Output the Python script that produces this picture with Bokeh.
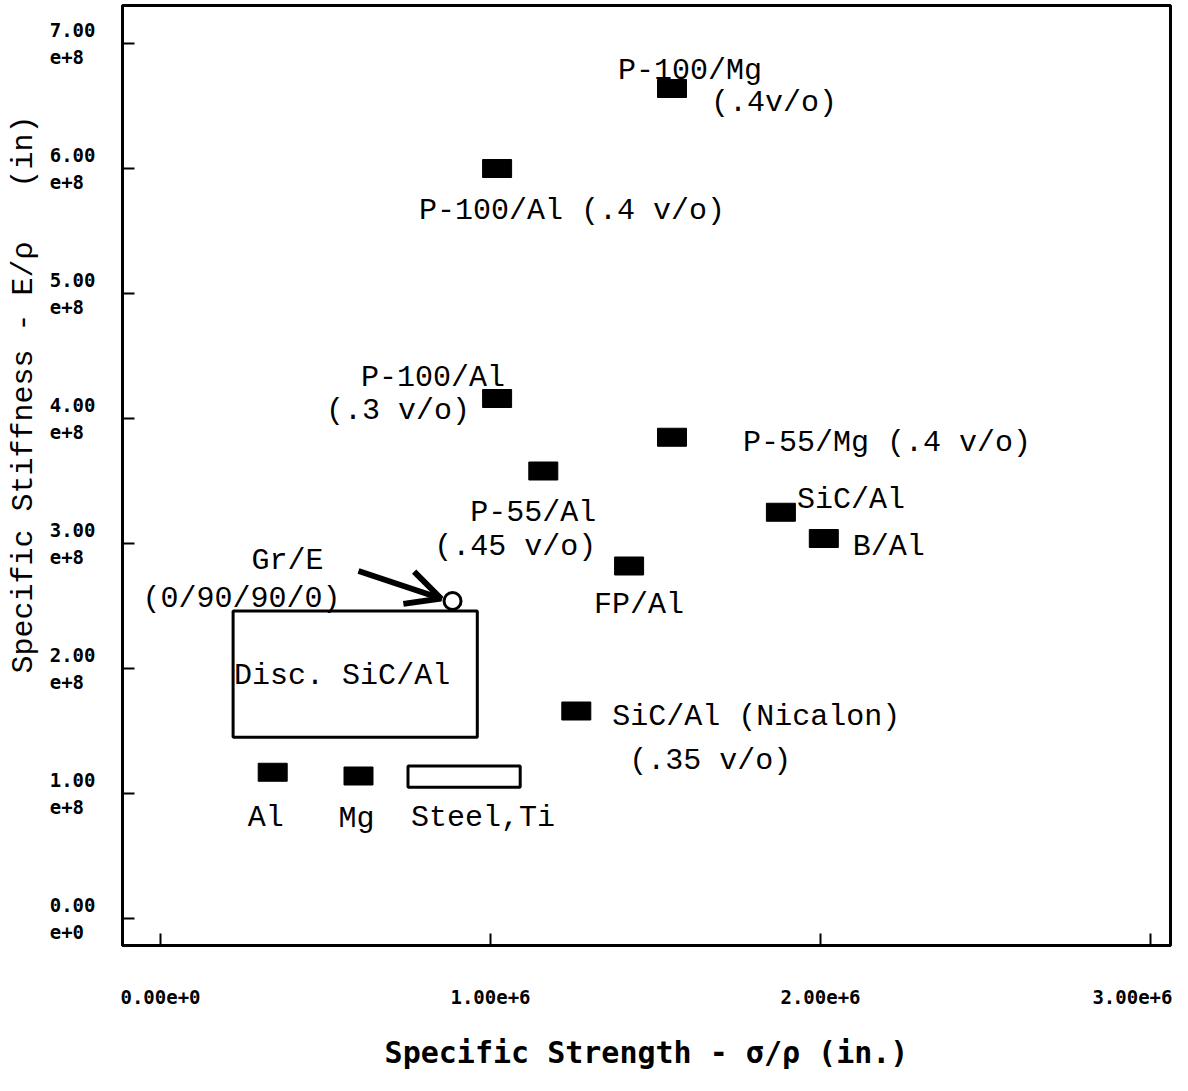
from bokeh.plotting import figure
from bokeh.models import ColumnDataSource, Range1d, FixedTicker, Arrow, OpenHead
from bokeh.core.properties import value
from bokeh.embed import file_html
from bokeh.resources import INLINE

# ---- data ----
materials = ["P-100/Mg", "P-100/Al (.4 v/o)", "P-100/Al (.3 v/o)", "P-55/Mg", "P-55/Al",
             "SiC/Al", "B/Al", "FP/Al", "SiC/Al (Nicalon)", "Al", "Mg"]
strength = [1.55e6, 1.02e6, 1.02e6, 1.55e6, 1.16e6, 1.88e6, 2.01e6, 1.42e6, 1.26e6, 0.34e6, 0.60e6]
stiffness = [6.64e8, 6.00e8, 4.16e8, 3.85e8, 3.58e8, 3.25e8, 3.04e8, 2.82e8, 1.66e8, 1.17e8, 1.14e8]

gre_strength = [0.885e6]
gre_stiffness = [2.54e8]

steel_strength = [0.75e6, 1.09e6]
steel_stiffness = [1.05e8, 1.22e8]

disc_strength = [0.22e6, 0.96e6]
disc_stiffness = [1.45e8, 2.46e8]

NB = "\u00a0"
x_ticks = [0, 1e6, 2e6, 3e6]
x_tick_labels = ["0.00e+0", "1.00e+6", "2.00e+6", "3.00e+6"]
y_ticks = [0, 1e8, 2e8, 3e8, 4e8, 5e8, 6e8, 7e8]
y_tick_labels = ["0.00\ne+0" + NB, "1.00\ne+8" + NB, "2.00\ne+8" + NB, "3.00\ne+8" + NB,
                 "4.00\ne+8" + NB, "5.00\ne+8" + NB, "6.00\ne+8" + NB, "7.00\ne+8" + NB]

# label texts, attached to a point (index into materials)
label_text = ["P-100/Mg", "(.4v/o)", "P-100/Al (.4 v/o)", "P-100/Al", "(.3 v/o)",
              "P-55/Mg (.4 v/o)", "P-55/Al", "(.45 v/o)", "SiC/Al", "B/Al", "FP/Al",
              "SiC/Al (Nicalon)", "(.35 v/o)", "Al", "Mg"]
label_anchor = [0, 0, 1, 2, 2, 3, 4, 4, 5, 6, 7, 8, 8, 9, 10]
# screen offsets (layout, not data)
label_dx = [18, 102, 75, -64, -99, 71, -10, -28, 16, 29, 10, 36, 134, -7, -2]
label_dy = [-18, 14, 42, -21, 12, 6, 42, 76, -12, 8, 39, 6, 50, 46, 43]
label_align = ["center", "center", "center", "center", "center", "left", "center", "center",
               "left", "left", "center", "left", "center", "center", "center"]

MONO = "Liberation Mono"
BOLDMONO = "DejaVu Sans Mono"

p = figure(width=1172, height=1075, output_backend="svg", toolbar_location=None,
           x_range=Range1d(-0.11515e6, 3.0606e6), y_range=Range1d(-0.216e8, 7.304e8),
           min_border_left=122, min_border_right=2, min_border_top=5, min_border_bottom=130)
p.background_fill_color = "white"
p.border_fill_color = "white"
p.xgrid.visible = False
p.ygrid.visible = False
p.outline_line_color = "black"
p.outline_line_width = 3

# axes
p.xaxis.ticker = FixedTicker(ticks=x_ticks)
p.xaxis.major_label_overrides = {float(t): l for t, l in zip(x_ticks, x_tick_labels)}
p.yaxis.ticker = FixedTicker(ticks=y_ticks)
p.yaxis.major_label_overrides = {float(t): l for t, l in zip(y_ticks, y_tick_labels)}
for ax in (p.xaxis[0], p.yaxis[0]):
    ax.axis_line_color = "black"
    ax.axis_line_width = 3
    ax.major_tick_line_color = "black"
    ax.major_tick_line_width = 2
    ax.major_tick_in = 12
    ax.major_tick_out = 0
    ax.minor_tick_line_color = None
    ax.major_label_text_font = BOLDMONO
    ax.major_label_text_font_style = "bold"
    ax.major_label_text_color = "black"
    ax.major_label_text_font_size = "19px"
p.xaxis.major_label_standoff = 44
p.yaxis.major_label_standoff = 27

p.xaxis.axis_label = "Specific Strength - σ/ρ (in.)"
p.xaxis.axis_label_text_font = BOLDMONO
p.xaxis.axis_label_text_font_style = "bold"
p.xaxis.axis_label_text_font_size = "30px"
p.xaxis.axis_label_text_color = "black"
p.xaxis.axis_label_standoff = 28

p.yaxis.axis_label = NB * 9 + "Specific Stiffness - E/ρ " + NB * 2 + "(in)"
p.yaxis.axis_label_text_font = MONO
p.yaxis.axis_label_text_font_style = "normal"
p.yaxis.axis_label_text_font_size = "30px"
p.yaxis.axis_label_text_color = "black"
p.yaxis.axis_label_standoff = 6

# region boxes
p.quad(left=[disc_strength[0]], right=[disc_strength[1]],
       bottom=[disc_stiffness[0]], top=[disc_stiffness[1]],
       fill_color=None, line_color="black", line_width=3)
p.quad(left=[steel_strength[0]], right=[steel_strength[1]],
       bottom=[steel_stiffness[0]], top=[steel_stiffness[1]],
       fill_color=None, line_color="black", line_width=3)

# material points
src = ColumnDataSource(dict(x=strength, y=stiffness, name=materials))
p.rect(x="x", y="y", width=29, height=18, width_units="screen", height_units="screen",
       source=src, fill_color="black", line_color="black")

# Gr/E open point
p.scatter(x=gre_strength, y=gre_stiffness, marker="circle", size=17,
          fill_color="white", line_color="black", line_width=3)

# arrow to Gr/E
p.add_layout(Arrow(end=OpenHead(size=34, line_width=6, line_color="black"),
                   x_start=gre_strength[0] - 0.285e6, y_start=gre_stiffness[0] + 0.24e8,
                   x_end=gre_strength[0] - 0.035e6, y_end=gre_stiffness[0] + 0.02e8,
                   line_width=6, line_color="black"))

# labels
lx = [strength[i] for i in label_anchor]
ly = [stiffness[i] for i in label_anchor]
lsrc = ColumnDataSource(dict(x=lx, y=ly, text=label_text, dx=label_dx, dy=label_dy, align=label_align))
p.text(x="x", y="y", text="text", x_offset="dx", y_offset="dy", text_align="align",
       text_baseline="middle", source=lsrc, text_font=value(MONO), text_font_size="30px",
       text_color="black")

# Gr/E labels
p.text(x=gre_strength * 2, y=gre_stiffness * 2, text=["Gr/E", "(0/90/90/0)"],
       x_offset=[-165, -211], y_offset=[-40, -2], text_align="center", text_baseline="middle",
       text_font=value(MONO), text_font_size="30px", text_color="black")

# steel / disc labels
p.text(x=[sum(steel_strength) / 2], y=[steel_stiffness[0]], text=["Steel,Ti"],
       x_offset=[19], y_offset=[31], text_align="center", text_baseline="middle",
       text_font=value(MONO), text_font_size="30px", text_color="black")
p.text(x=[disc_strength[0]], y=[sum(disc_stiffness) / 2], text=["Disc. SiC/Al"],
       x_offset=[1], y_offset=[2], text_align="left", text_baseline="middle",
       text_font=value(MONO), text_font_size="30px", text_color="black")

open("out.html", "w").write(file_html(p, INLINE))
